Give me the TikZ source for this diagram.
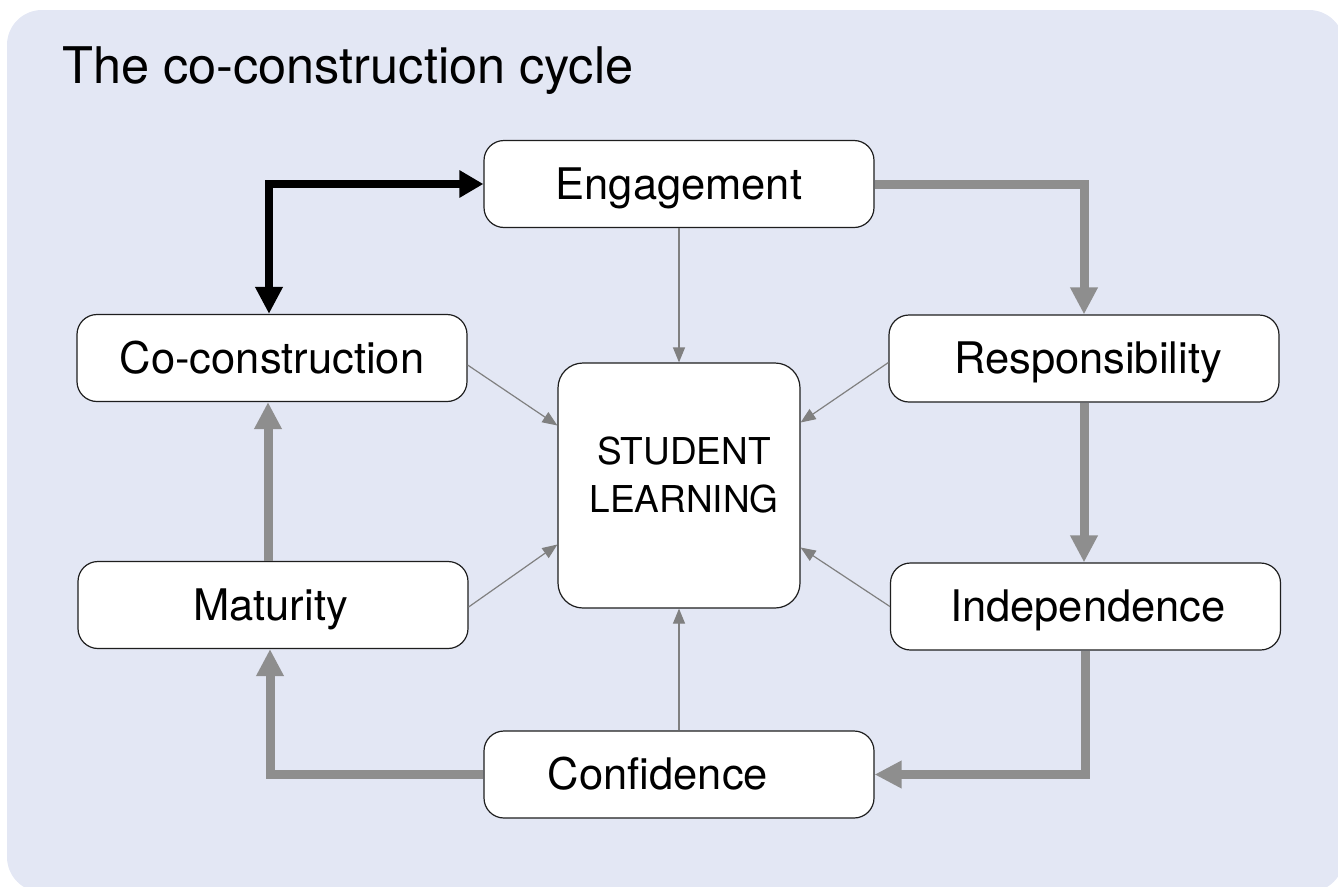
\documentclass[tikz,border=0pt]{standalone}
\usepackage{fontspec}
\setmainfont{TeX Gyre Heros}
\usetikzlibrary{arrows.meta,calc}

\definecolor{panel}{HTML}{E3E7F4}
\definecolor{flow}{HTML}{8E8E8E}
\definecolor{feed}{HTML}{808080}
\definecolor{edge}{HTML}{1E1E1E}

\begin{document}
\begin{tikzpicture}[x=1pt,y=-1pt,
  stage/.style={draw=edge, line width=1.2pt, fill=white, rounded corners=20pt,
    minimum width=390pt, minimum height=87pt, inner sep=0pt,
    font=\fontsize{43.5}{48}\selectfont, text height=32pt, text depth=2pt},
  hub/.style={draw=edge, line width=1.2pt, fill=white, rounded corners=25pt,
    minimum width=242pt, minimum height=245pt, inner sep=0pt},
  cycle/.style={draw=flow, line width=9pt,
    -{Triangle[length=27pt,width=26pt]}},
  lead/.style={draw=black, line width=8pt,
    {Triangle[length=27pt,width=26pt]}-{Triangle[length=24pt,width=26pt]}},
  feeds/.style={draw=feed, line width=1.2pt,
    -{Triangle[length=15pt,width=12pt]}}
]
\useasboundingbox (0,0) rectangle (1338,886);

% panel
\begin{scope}
  \clip (0,0) rectangle (1338,886);
  \fill[panel, rounded corners=35pt] (7,10) rectangle (1344,892);
\end{scope}

% heading
\node[anchor=base west, inner sep=0pt, font=\fontsize{50.5}{58}\selectfont]
  (title) at (62,83) {The co-construction cycle};

% stages of the cycle
\node[stage] (eng)   at (679,184)    {Engagement};
\node[stage] (cocon) at (272,358)    {Co-construction};
\node[stage] (resp)  at (1084,358.5) {\hspace*{8pt}Responsibility};
\node[stage] (mat)   at (273,605)    {\hspace*{-5pt}Maturity};
\node[stage] (ind)   at (1085.5,606.5) {\hspace*{5pt}Independence};
\node[stage] (conf)  at (679,774.5)  {\hspace*{-42pt}Confidence};

% centre
\node[hub] (sl) at (679,485.5) {};
\node[anchor=base, inner sep=0pt, font=\fontsize{37}{48}\selectfont]
  (sltext) at (684,464)
  {\begin{tabular}[t]{@{}c@{}}STUDENT\\LEARNING\end{tabular}};

% main loop
\draw[lead] ([xshift=-3pt]cocon.north) |- (eng.west);
\draw[cycle] (eng.east) -| (resp.north);
\draw[cycle] (resp.south) -- (resp.south |- ind.north);
\draw[cycle] (ind.south) |- (conf.east);
\draw[cycle] (conf.west) -| ([xshift=-3pt]mat.south);
\draw[cycle] ([xshift=-5pt]mat.north) -- ([xshift=-5pt]mat.north |- cocon.south);

% contributions to student learning
\draw[feeds] (eng.south) -- (sl.north);
\draw[feeds] (conf.north) -- (sl.south);
\draw[feeds] ([yshift=-7pt]cocon.east) -- ([yshift=60pt]sl.west);
\draw[feeds] ([yshift=-4pt]resp.west) -- ([yshift=63pt]sl.east);
\draw[feeds] ([yshift=-2pt]mat.east) -- ([yshift=-59pt]sl.west);
\draw[feeds] (ind.west) -- ([yshift=-62pt]sl.east);
\end{tikzpicture}
\end{document}
